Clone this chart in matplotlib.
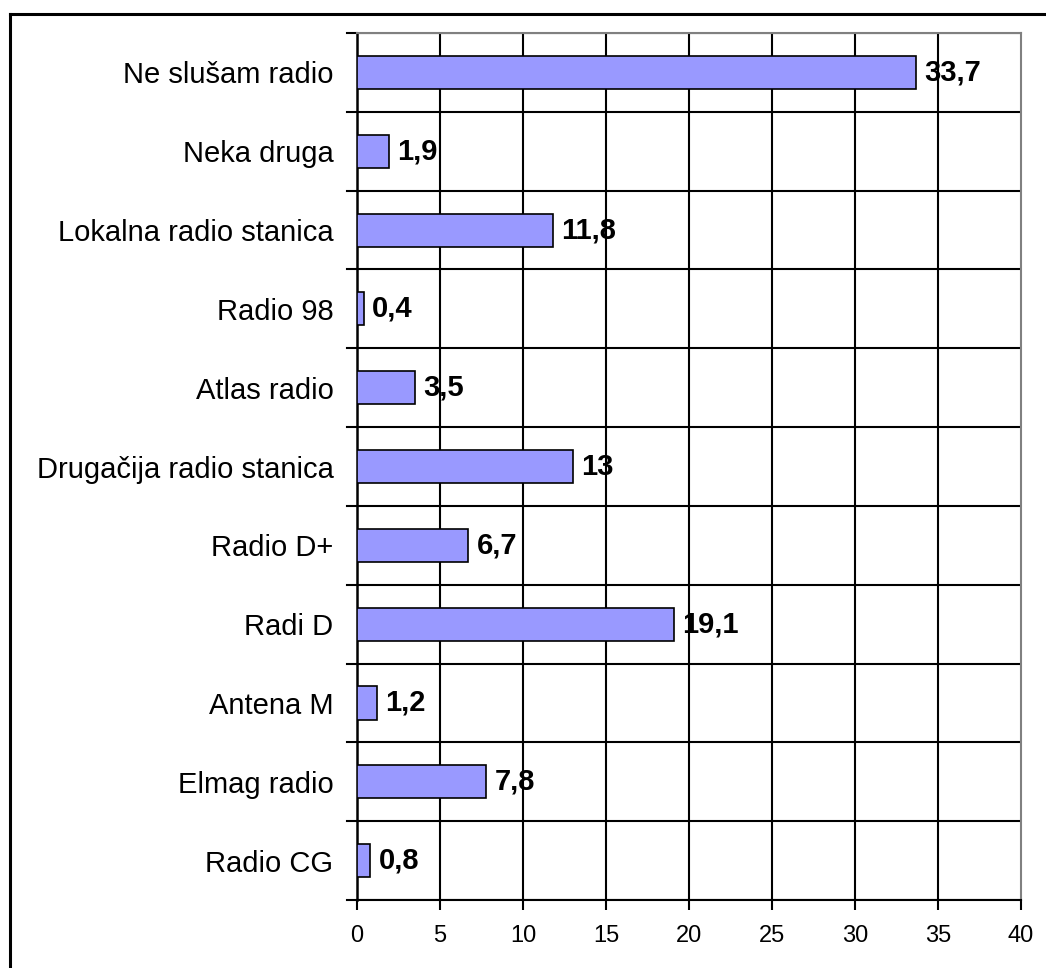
import matplotlib
matplotlib.use('Agg')
import matplotlib.pyplot as plt
from matplotlib.lines import Line2D
import numpy as np

plt.rcParams['font.family'] = ['Liberation Sans', 'DejaVu Sans']

categories = ['Radio CG', 'Elmag radio', 'Antena M', 'Radi D', 'Radio D+',
              'Drugačija radio stanica', 'Atlas radio', 'Radio 98',
              'Lokalna radio stanica', 'Neka druga', 'Ne slušam radio']
values = [0.8, 7.8, 1.2, 19.1, 6.7, 13, 3.5, 0.4, 11.8, 1.9, 33.7]
value_labels = ['0,8', '7,8', '1,2', '19,1', '6,7', '13', '3,5', '0,4', '11,8', '1,9', '33,7']
xticks = [0, 5, 10, 15, 20, 25, 30, 35, 40]

fig = plt.figure(figsize=(10.46, 9.68), dpi=100)
ax = fig.add_axes([0.3413, 0.0702, 0.976 - 0.3413, 0.9659 - 0.0702])

y = np.arange(len(categories))
ax.barh(y, values, height=0.42, color='#9999ff', edgecolor='black', linewidth=1.2, zorder=3)

for yi, v, lab in zip(y, values, value_labels):
    ax.annotate(lab, (v, yi), xytext=(6, 0), textcoords='offset points',
                va='center', ha='left', fontsize=21, fontweight='bold', zorder=4)

ax.set_xlim(0, 40)
ax.set_ylim(-0.5, len(categories) - 0.5)
ax.set_xticks(xticks)
ax.set_xticklabels([str(t) for t in xticks], fontsize=17)
ax.set_yticks(y)
ax.set_yticklabels(categories, fontsize=21)
ax.tick_params(axis='y', length=0, pad=17)
ax.tick_params(axis='x', length=7, width=1.5, pad=11)

# gridlines between categories and at each x tick
for b in np.arange(-0.5, len(categories), 1.0):
    ax.axhline(b, color='black', linewidth=1.5, zorder=1)
    ax.plot([-0.6, 0], [b, b], color='black', linewidth=1.5, clip_on=False, zorder=1)
for t in xticks[1:-1]:
    ax.axvline(t, color='black', linewidth=1.5, zorder=1)

for s in ['top', 'right']:
    ax.spines[s].set_color('#808080')
    ax.spines[s].set_linewidth(1.5)
ax.spines['left'].set_linewidth(1.8)
ax.spines['bottom'].set_linewidth(1.5)

# outer frame (left and top edges)
fig.add_artist(Line2D([9.5 / 1046, 9.5 / 1046], [0, 1 - 13.5 / 968], color='black', linewidth=2.2))
fig.add_artist(Line2D([9.5 / 1046, 1], [1 - 13.5 / 968, 1 - 13.5 / 968], color='black', linewidth=2.2))

fig.savefig('out.png', dpi=100)
